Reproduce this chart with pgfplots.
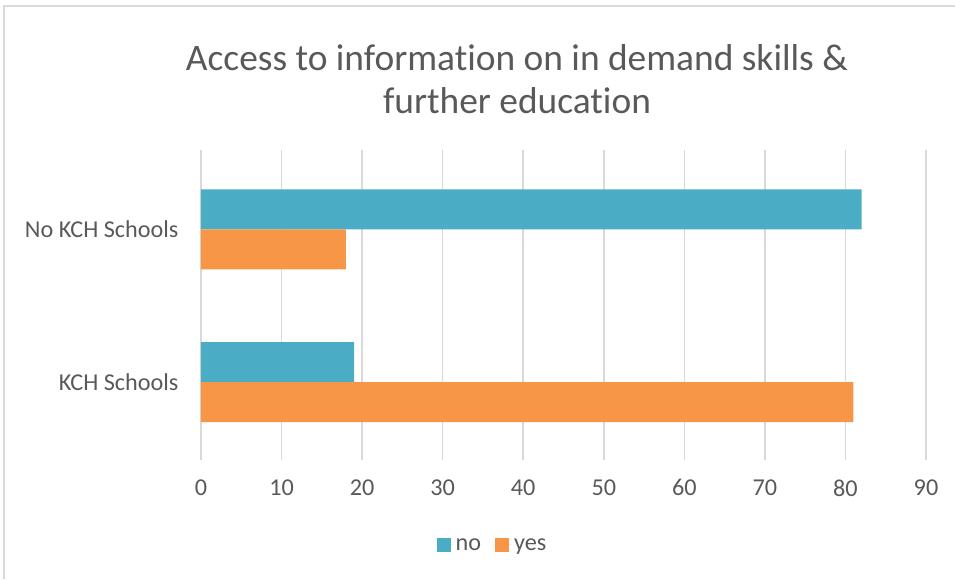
\documentclass[border=0pt]{standalone}
\usepackage{pgfplots}
\pgfplotsset{compat=1.18}
\usepackage{fontspec}
\setmainfont{Carlito}[Ligatures={NoCommon}]
\definecolor{cno}{HTML}{4BACC6}
\definecolor{cyes}{HTML}{F79646}
\definecolor{txt}{HTML}{595959}
\definecolor{grd}{HTML}{D9D9D9}
\begin{document}
\begin{tikzpicture}
\path[use as bounding box] (-201pt,-119pt) rectangle (754pt,460pt);
\draw[grd, line width=1.2pt] (-197pt,-119pt) -- (-197pt,454pt) -- (754pt,454pt);
\begin{axis}[
  at={(0pt,0pt)}, anchor=south west,
  scale only axis, width=725pt, height=310pt,
  xbar, bar width=40pt,
  xmin=0, xmax=90, ymin=-0.51, ymax=1.52,
  xtick={0,10,...,90},
  ytick={0,1}, yticklabels={KCH Schools, No KCH Schools},
  xmajorgrids, grid style={grd, line width=1.5pt},
  axis line style={draw=none},
  major tick length=0pt,
  tick label style={font=\fontsize{24.2}{28}\selectfont, text=txt},
  /pgf/number format/assume math mode=true,
  xticklabel style={yshift=-16pt},
  yticklabel style={xshift=-19pt},
  legend style={draw=none, at={(0.402,-0.274)}, anchor=center,
    legend columns=2, font=\fontsize{24.2}{28}\selectfont, text=txt,
    /tikz/every even column/.append style={column sep=12pt}},
  legend image code/.code={\fill[#1] (0pt,-7pt) rectangle (14pt,7pt); \path (0pt,0pt) -- (17pt,0pt);},
]
\addplot[fill=cno, draw=none, bar shift=20pt] coordinates {(19,0) (82,1)};
\addplot[fill=cyes, draw=none, bar shift=-20pt] coordinates {(81,0) (18,1)};
\legend{no, yes}
\end{axis}
\node[align=center, text=txt, font=\fontsize{37.4}{43}\selectfont] at (316pt,381pt)
  {Access to informat\kern0pt ion on in demand skills \&\\further educat\kern0pt ion};
\end{tikzpicture}
\end{document}
